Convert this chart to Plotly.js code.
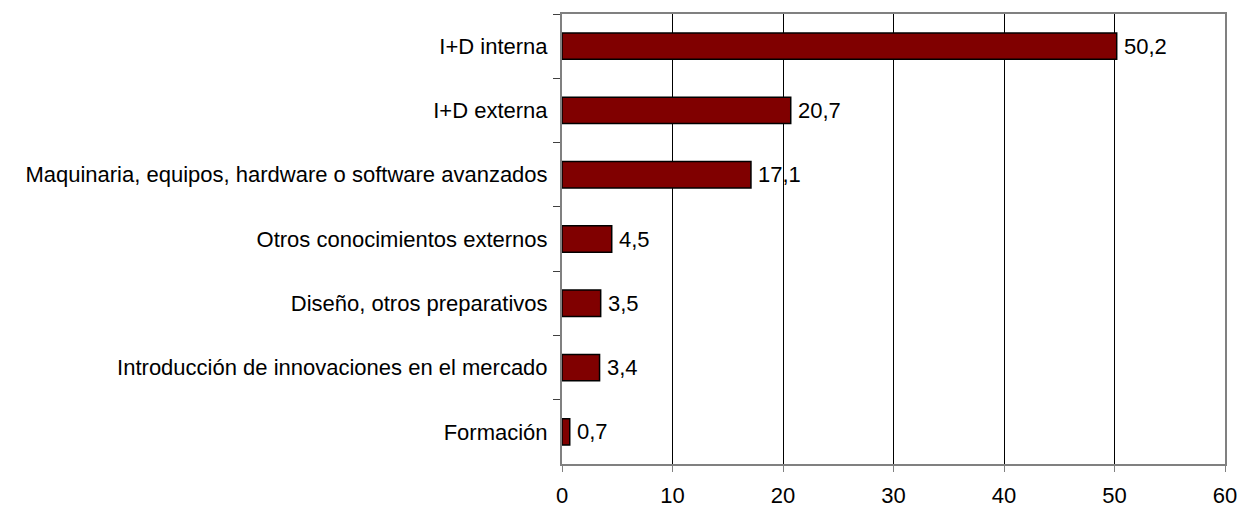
<!DOCTYPE html>
<html>
<head>
<meta charset="utf-8">
<script src="https://cdn.plot.ly/plotly-3.0.1.min.js"></script>
<style>html,body{margin:0;padding:0;background:#fff;}#chart{width:1239px;height:507px;}</style>
</head>
<body>
<div id="chart"></div>
<script>
const categories = [
  "I+D interna",
  "I+D externa",
  "Maquinaria, equipos, hardware o software avanzados",
  "Otros conocimientos externos",
  "Diseño, otros preparativos",
  "Introducción de innovaciones en el mercado",
  "Formación"
];
const values = [50.2, 20.7, 17.1, 4.5, 3.5, 3.4, 0.7];
const xTicks = [0, 10, 20, 30, 40, 50, 60];

const labels = values.map(v => v.toFixed(1).replace('.', ','));
const fontFam = 'Liberation Sans, Arial, sans-serif';
const fs = 22;

const trace = {
  type: 'bar',
  orientation: 'h',
  x: values,
  y: categories,
  marker: {color: '#800000', line: {color: '#000000', width: 1.5}},
  hoverinfo: 'none'
};

const annotations = values.map((v, i) => ({
  x: v, y: categories[i], xref: 'x', yref: 'y',
  text: labels[i], showarrow: false, xanchor: 'left', xshift: 5,
  font: {family: fontFam, size: fs, color: '#000'}
}));

const layout = {
  width: 1239, height: 507,
  margin: {l: 562, r: 14, t: 14, b: 43, pad: 0},
  paper_bgcolor: '#fff', plot_bgcolor: '#fff',
  showlegend: false,
  bargap: 0.59,
  font: {family: fontFam, size: fs, color: '#000'},
  xaxis: {
    range: [0, 60], tickvals: xTicks, ticktext: xTicks.map(String),
    showgrid: true, gridcolor: '#000000', gridwidth: 1,
    zeroline: false,
    showline: true, linecolor: '#808080', linewidth: 2, mirror: true,
    ticks: 'outside', ticklen: 6, tickcolor: '#808080', tickwidth: 1,
    ticklabelstandoff: 5,
    tickfont: {family: fontFam, size: fs, color: '#000'}
  },
  yaxis: {
    type: 'category', autorange: 'reversed',
    showgrid: false, zeroline: false,
    showline: true, linecolor: '#808080', linewidth: 2, mirror: true,
    ticks: 'outside', ticklen: 7, tickcolor: '#404040', tickwidth: 1,
    tickson: 'boundaries',
    ticklabelstandoff: 8,
    tickfont: {family: fontFam, size: fs, color: '#000'}
  },
  annotations: annotations
};

Plotly.newPlot('chart', [trace], layout, {displayModeBar: false, staticPlot: true});
</script>
</body>
</html>
